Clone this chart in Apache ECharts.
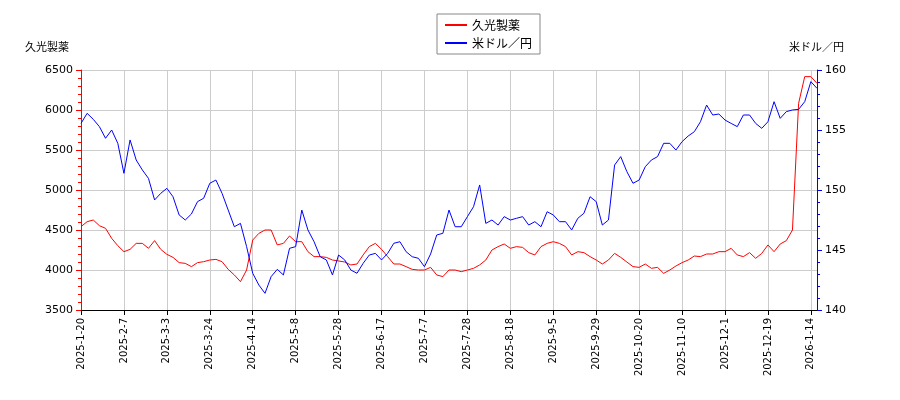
<!DOCTYPE html>
<html>
<head>
<meta charset="utf-8">
<script src="https://cdn.jsdelivr.net/npm/echarts@6/dist/echarts.min.js"></script>
<style>html,body{margin:0;padding:0;background:#fff}#chart{width:900px;height:400px}</style>
</head>
<body>
<div id="chart"></div>
<script>
// x positions are trading-day indices, one point every 2 trading days
var tickLabels = ["2025-1-20", "2025-2-7", "2025-3-3", "2025-3-24", "2025-4-14", "2025-5-8", "2025-5-28", "2025-6-17", "2025-7-7",
    "2025-7-28", "2025-8-18", "2025-9-5", "2025-9-29", "2025-10-20", "2025-11-10", "2025-12-1", "2025-12-19", "2026-1-14"];

var hisamitsu = [4542, 4604, 4625, 4554, 4521, 4396, 4304, 4229, 4258, 4333, 4333, 4271, 4367, 4258, 4196, 4158, 4092, 4083, 4042, 4092, 4104, 4125, 4133, 4104, 4008, 3938, 3854, 4000, 4375, 4458, 4500,
    4500, 4313, 4333, 4425, 4354, 4354, 4229, 4167, 4167, 4158, 4125, 4113, 4100, 4063, 4075, 4188, 4292, 4333, 4258, 4167, 4075, 4075, 4042, 4008, 4000, 4000, 4033, 3938, 3917, 4000,
    4000, 3979,
    4000, 4021, 4063, 4125, 4250, 4292, 4325, 4271, 4292, 4283, 4217, 4188, 4292, 4333, 4354, 4333, 4292, 4188, 4229, 4217, 4167, 4125, 4075, 4125, 4208, 4158, 4100, 4042, 4033,
    4075, 4021, 4033, 3958, 4000, 4050, 4092, 4125, 4175, 4167, 4200, 4200, 4229, 4229, 4271, 4188, 4167, 4217, 4146, 4208, 4313, 4229, 4325, 4367, 4500, 6083, 6417, 6417, 6333];

var usdjpy = [155.55, 156.39, 155.89, 155.28, 154.31, 155.0, 153.89, 151.39, 154.17, 152.5, 151.67, 150.97, 149.17, 149.72, 150.14, 149.44, 147.92, 147.5, 148.0, 149.03, 149.31, 150.56, 150.83, 149.72, 148.33, 146.94, 147.22, 145.28, 143.06, 142.08, 141.39,
    142.78, 143.39, 142.92, 145.14, 145.28, 148.33, 146.67, 145.69, 144.44, 144.17, 142.92, 144.58, 144.17, 143.33, 143.06, 143.89, 144.58, 144.72, 144.17, 144.72, 145.56, 145.69, 144.86, 144.44, 144.31, 143.61, 144.67, 146.25, 146.39, 148.33,
    146.94, 146.94, 147.78, 148.61, 150.42, 147.22, 147.5, 147.08, 147.78, 147.5, 147.64, 147.78, 147.08, 147.36, 146.94, 148.19, 147.92, 147.36, 147.36, 146.67, 147.64, 148.06, 149.44, 149.03, 147.08, 147.5, 152.08, 152.78, 151.53, 150.56, 150.83,
    151.94, 152.5, 152.78, 153.89, 153.89, 153.33, 154.03, 154.5, 154.86, 155.69, 157.08, 156.25, 156.33, 155.83, 155.55, 155.28, 156.25, 156.25, 155.55, 155.14, 155.69, 157.36, 155.97, 156.53, 156.67, 156.72, 157.36, 159.03, 158.47];

var STEP = 2;
function toPairs(arr) {
    return arr.map(function (v, i) { return [i * STEP, v]; });
}

var chart = echarts.init(document.getElementById("chart"));
var font = "DejaVu Sans";
chart.setOption({
    animation: false,
    textStyle: {fontFamily: font},
    legend: {
        top: 14, left: 437, orient: "vertical", itemWidth: 22, itemHeight: 2, itemGap: 6,
        padding: [5, 8], borderColor: "#888", borderWidth: 1,
        textStyle: {fontSize: 12, color: "#000", fontFamily: "Noto Sans CJK JP"},
        data: [{name: "久光製薬", icon: "rect"}, {name: "米ドル／円", icon: "rect"}]
    },
    grid: {left: 81, right: 83, top: 70, bottom: 90},
    xAxis: {
        type: "value", min: 0, max: 240, interval: 14,
        axisLine: {lineStyle: {color: "#000"}},
        axisTick: {lineStyle: {color: "#000"}},
        splitLine: {lineStyle: {color: "#ccc"}},
        axisLabel: {
            rotate: 90, fontSize: 10, color: "#000", showMaxLabel: false,
            formatter: function (v) { return tickLabels[Math.round(v / 14)] || ""; }
        }
    },
    yAxis: [{
        type: "value", min: 3500, max: 6500, interval: 500,
        name: "久光製薬", nameGap: 18,
        nameTextStyle: {color: "#000", fontSize: 11, fontFamily: "Noto Sans CJK JP", align: "right", padding: [0, 12, 0, 0]},
        axisLine: {show: true, lineStyle: {color: "#f00"}},
        axisTick: {show: true, lineStyle: {color: "#f00"}},
        minorTick: {show: true, splitNumber: 5, lineStyle: {color: "#f00"}},
        axisLabel: {color: "#000", fontSize: 11, formatter: function (v) { return String(v); }},
        splitLine: {lineStyle: {color: "#ccc"}}
    }, {
        type: "value", min: 140, max: 160, interval: 5,
        name: "米ドル／円", nameGap: 18,
        nameTextStyle: {color: "#000", fontSize: 11, fontFamily: "Noto Sans CJK JP", align: "left", padding: [0, 0, 0, -28]},
        axisLine: {show: true, lineStyle: {color: "#00f"}},
        axisTick: {show: true, lineStyle: {color: "#00f"}},
        minorTick: {show: true, splitNumber: 5, lineStyle: {color: "#00f"}},
        axisLabel: {color: "#000", fontSize: 11},
        splitLine: {show: false}
    }],
    series: [{
        name: "久光製薬", type: "line", yAxisIndex: 0, symbol: "none",
        lineStyle: {color: "#f00", width: 1}, itemStyle: {color: "#f00"},
        data: toPairs(hisamitsu)
    }, {
        name: "米ドル／円", type: "line", yAxisIndex: 1, symbol: "none",
        lineStyle: {color: "#00f", width: 1}, itemStyle: {color: "#00f"},
        data: toPairs(usdjpy)
    }]
});
</script>
</body>
</html>
